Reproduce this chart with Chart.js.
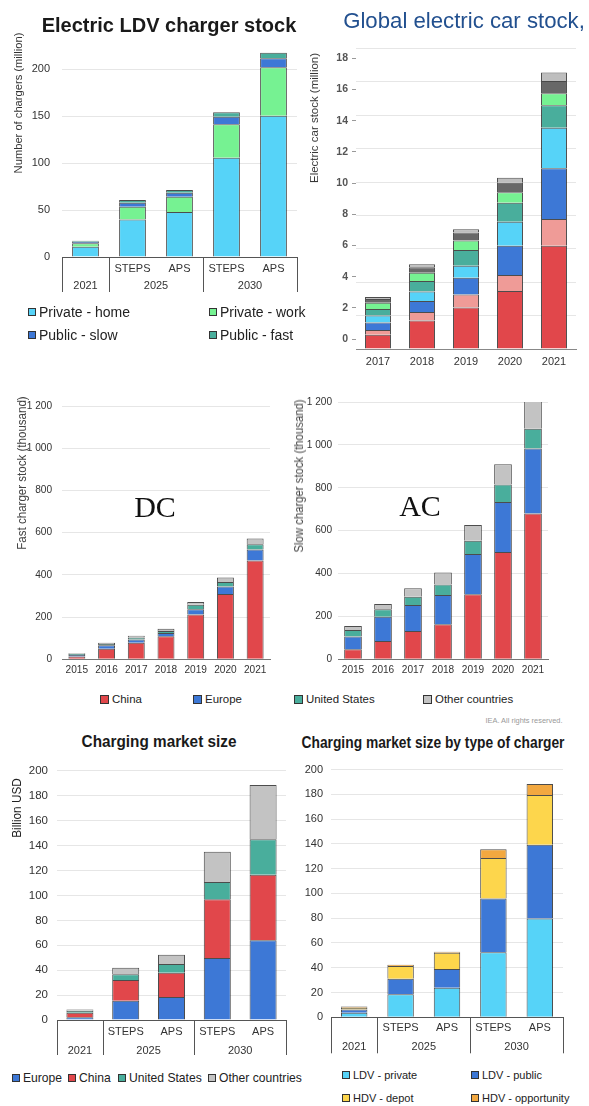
<!DOCTYPE html>
<html>
<head>
<meta charset="utf-8">
<script src="https://cdn.jsdelivr.net/npm/chart.js@4.4.1/dist/chart.umd.min.js"></script>
<style>
  html, body { margin: 0; padding: 0; background: #fff; }
  #page { position: relative; width: 589px; height: 1106px; overflow: hidden; font-family: "Liberation Sans", Arial, sans-serif; }
  canvas { position: absolute; }
  .t { position: absolute; white-space: nowrap; line-height: 1; }
  .leg { position: absolute; white-space: nowrap; display: flex; align-items: center; color: #222; line-height: 1; transform: translateY(-50%); }
  .leg i { display: inline-block; box-sizing: border-box; border: 1px solid #333; margin-right: 3px; }
</style>
</head>
<body>
<div id="page"></div>
<script>
// Electric LDV charger stock (million chargers)
const ldvCats = ['', 'STEPS', 'APS', 'STEPS', 'APS'];
const ldvGroups = ['2021', '2025', '2030'];
const ldvGroupSizes = [1, 2, 2];
const ldvSeries = ['Private - home', 'Private - work', 'Public - slow', 'Public - fast'];
const privateHome = [11, 40, 48, 105.6, 150.3];
const privateWork = [3.5, 13.5, 16.2, 35.6, 51.5];
const publicSlow = [1.8, 4.3, 4.2, 8.1, 9.6];
const publicFast = [1, 2.8, 2.9, 4.6, 5.9];

// Global electric car stock (million)
const carYears = ['2017', '2018', '2019', '2020', '2021'];
const carSeries = ['China BEV', 'China PHEV', 'Europe BEV', 'Europe PHEV', 'United States BEV', 'United States PHEV', 'Other BEV', 'Other PHEV'];
const chinaBev = [0.86, 1.70, 2.49, 3.47, 6.19];
const chinaPhev = [0.28, 0.52, 0.78, 0.96, 1.59];
const europeBev = [0.44, 0.65, 1.00, 1.76, 3.04];
const europePhev = [0.42, 0.58, 0.72, 1.43, 2.43];
const usBev = [0.40, 0.62, 0.94, 1.14, 1.34];
const usPhev = [0.37, 0.50, 0.56, 0.62, 0.72];
const otherBev = [0.22, 0.32, 0.48, 0.58, 0.74];
const otherPhev = [0.12, 0.18, 0.20, 0.30, 0.50];

// Fast (DC) and slow (AC) public charger stock (thousand)
const chargerYears = ['2015', '2016', '2017', '2018', '2019', '2020', '2021'];
const regions = ['China', 'Europe', 'United States', 'Other countries'];
const fastChina = [13, 50, 78, 109, 212, 309, 468];
const fastEurope = [7, 16, 16, 16, 25, 36, 52];
const fastUS = [5, 6, 9, 9, 21, 21, 25];
const fastOther = [4, 6, 9, 11, 14, 22, 27];
const slowChina = [47, 85, 132, 163, 303, 500, 680];
const slowEurope = [59, 114, 121, 137, 188, 234, 303];
const slowUS = [31, 34, 39, 49, 62, 81, 93];
const slowOther = [18, 25, 39, 56, 73, 95, 132];

// Charging market size (billion USD)
const marketCats = ['', 'STEPS', 'APS', 'STEPS', 'APS'];
const marketRegions = ['Europe', 'China', 'United States', 'Other countries'];
const mktEurope = [2.2, 15.4, 18.5, 49.8, 64.1];
const mktChina = [3.6, 16.7, 19.4, 47.2, 52.5];
const mktUS = [1.6, 4.7, 7.1, 13.7, 28.6];
const mktOther = [1.1, 5.1, 7.4, 24.4, 43.4];
const chargerTypes = ['LDV - private', 'LDV - public', 'HDV - depot', 'HDV - opportunity'];
const ldvPrivate = [3.7, 18.7, 23.8, 52.6, 79.8];
const ldvPublic = [2.6, 12.5, 15.2, 43.3, 59.6];
const hdvDepot = [1.4, 10.2, 13.1, 32.8, 40.0];
const hdvOpportunity = [1.0, 1.1, 0.8, 6.9, 8.9];

const C = {
  cyan: '#56D3F8', green: '#76F292', blue: '#3D78D6', teal: '#49AE9C',
  red: '#E1474B', pink: '#EF9B97', dgray: '#686868', lgray: '#BEBEBE',
  gray: '#C3C3C3', yellow: '#FDD64C', orange: '#F2A840'
};
const EDGE = 'rgba(45,45,45,0.85)';
const GRID = '#e6e6e6';

const page = document.getElementById('page');

// use the narrow face when it is installed
const probe = document.createElement('canvas').getContext('2d');
function probeWidth(f) { probe.font = f; return probe.measureText('Other countries 2015').width; }
const HAS_NARROW = probeWidth('20px "Liberation Sans Narrow", monospace') !== probeWidth('20px monospace');
const NARROW = HAS_NARROW ? '"Liberation Sans Narrow", "Liberation Sans", sans-serif' : '"Liberation Sans", sans-serif';
const NK = HAS_NARROW ? 1 : 0.88;
const REG = '"Liberation Sans", Arial, sans-serif';

const spaced = v => v >= 1000 ? Math.floor(v / 1000) + ' ' + String(v % 1000).padStart(3, '0') : v;

function sets(names, values, colors) {
  return names.map((n, i) => ({ label: n, data: values[i], backgroundColor: colors[i] }));
}

// draws the boxed two-level category axis (2021 | 2025 | 2030)
const groupBoxes = {
  id: 'groupBoxes',
  afterDraw(chart, args, opts) {
    const x = chart.scales.x, ctx = chart.ctx;
    const half = (x.getPixelForValue(1) - x.getPixelForValue(0)) / 2;
    const top = x.top;
    const edges = [x.getPixelForValue(0) - half];
    ctx.save();
    ctx.font = opts.font;
    ctx.fillStyle = '#333';
    ctx.textAlign = 'center';
    ctx.textBaseline = 'middle';
    let i = 0;
    opts.names.forEach((name, g) => {
      const left = x.getPixelForValue(i) - half;
      const right = x.getPixelForValue(i + opts.sizes[g] - 1) + half;
      ctx.fillText(name, (left + right) / 2, top + opts.labelY);
      edges.push(right);
      i += opts.sizes[g];
    });
    ctx.strokeStyle = '#555';
    ctx.lineWidth = 1;
    ctx.beginPath();
    edges.forEach(e => {
      const px = Math.round(e) + 0.5;
      ctx.moveTo(px, top);
      ctx.lineTo(px, top + opts.depth);
    });
    ctx.stroke();
    ctx.restore();
  }
};

function addChart(box, cfg) {
  const c = document.createElement('canvas');
  c.width = box.w;
  c.height = box.h;
  c.style.left = box.x + 'px';
  c.style.top = box.y + 'px';
  page.appendChild(c);
  return new Chart(c, cfg);
}

function barOptions(o) {
  return {
    responsive: false,
    animation: false,
    layout: { padding: { top: o.padTop, right: o.padRight, bottom: 0, left: 0 } },
    datasets: { bar: { categoryPercentage: 1, barPercentage: o.barPct, borderWidth: 1, borderColor: EDGE } },
    plugins: { legend: { display: false }, tooltip: { enabled: false }, groupBoxes: o.groups || {} },
    scales: {
      x: {
        stacked: true,
        grid: { display: false, drawTicks: false },
        border: { color: o.axisColor, width: 1 },
        ticks: { font: o.xFont, color: '#333', padding: o.xPad, maxRotation: 0, autoSkip: false },
        afterFit: s => { s.height = o.xH; }
      },
      y: {
        stacked: true, min: 0, max: o.max,
        grid: { color: GRID, drawTicks: false },
        border: { display: false },
        ticks: { stepSize: o.step, includeBounds: false, font: o.yFont, color: '#333', padding: o.yPad, callback: o.fmt || (v => v) },
        afterFit: s => { s.width = o.yW; }
      }
    }
  };
}

// Electric LDV charger stock
addChart({ x: 0, y: 0, w: 300, h: 300 }, {
  type: 'bar',
  data: { labels: ldvCats, datasets: sets(ldvSeries, [privateHome, privateWork, publicSlow, publicFast], [C.cyan, C.green, C.blue, C.teal]) },
  options: barOptions({
    yW: 62, xH: 43, padTop: 50.2, padRight: 3, max: 220, step: 50, barPct: 0.57,
    yFont: { family: REG, size: 11 }, yPad: 12, xFont: { family: REG, size: 11 }, xPad: 5, axisColor: '#555',
    groups: { names: ldvGroups, sizes: ldvGroupSizes, font: '11px ' + REG, labelY: 28.7, depth: 35 }
  }),
  plugins: [groupBoxes]
});

// Global electric car stock: gridlines follow the bars, tick labels sit on their own (compressed) axis
const carOpts = barOptions({
  yW: 0, xH: 26, padTop: 48.4, padRight: 13, max: 18, step: 2, barPct: 0.59,
  yFont: { family: REG, size: 10.5 }, yPad: 0, xFont: { family: REG, size: 11 }, xPad: 6, axisColor: '#888'
});
carOpts.scales.y.ticks.display = false;
carOpts.scales.yLabels = {
  type: 'linear', position: 'left', min: -0.64, max: 18.63,
  grid: { drawOnChartArea: false, tickLength: 4, color: '#999' },
  border: { display: false },
  ticks: { stepSize: 2, includeBounds: false, padding: 4, font: { family: REG, size: 10.5, weight: 'bold' }, color: '#555' },
  afterFit: s => { s.width = 56; }
};
addChart({ x: 300, y: 0, w: 289, h: 375 }, {
  type: 'bar',
  data: {
    labels: carYears,
    datasets: sets(carSeries,
      [chinaBev, chinaPhev, europeBev, europePhev, usBev, usPhev, otherBev, otherPhev],
      [C.red, C.pink, C.blue, C.cyan, C.teal, C.green, C.dgray, C.lgray])
  },
  options: carOpts
});

// DC fast chargers
addChart({ x: 0, y: 390, w: 295, h: 300 }, {
  type: 'bar',
  data: { labels: chargerYears, datasets: sets(regions, [fastChina, fastEurope, fastUS, fastOther], [C.red, C.blue, C.teal, C.gray]) },
  options: barOptions({
    yW: 62, xH: 30.7, padTop: 13.3, padRight: 25, max: 1200, step: 200, barPct: 0.57, fmt: spaced,
    yFont: { family: NARROW, size: 11.5 * NK }, yPad: 10, xFont: { family: NARROW, size: 11.5 * NK }, xPad: 5, axisColor: '#777'
  })
});

// AC slow chargers
addChart({ x: 295, y: 390, w: 294, h: 300 }, {
  type: 'bar',
  data: { labels: chargerYears, datasets: sets(regions, [slowChina, slowEurope, slowUS, slowOther], [C.red, C.blue, C.teal, C.gray]) },
  options: barOptions({
    yW: 43, xH: 30.7, padTop: 11.7, padRight: 41, max: 1200, step: 200, barPct: 0.59, fmt: spaced,
    yFont: { family: NARROW, size: 11.5 * NK }, yPad: 6, xFont: { family: NARROW, size: 11.5 * NK }, xPad: 5, axisColor: '#777'
  })
});

// Charging market size by region
addChart({ x: 0, y: 755, w: 295, h: 305 }, {
  type: 'bar',
  data: { labels: marketCats, datasets: sets(marketRegions, [mktEurope, mktChina, mktUS, mktOther], [C.blue, C.red, C.teal, C.gray]) },
  options: barOptions({
    yW: 57, xH: 40, padTop: 13.3, padRight: 9, max: 200, step: 20, barPct: 0.59,
    yFont: { family: REG, size: 11.5 }, yPad: 9, xFont: { family: NARROW, size: 12.5 * NK }, xPad: 5, axisColor: '#555',
    groups: { names: ldvGroups, sizes: ldvGroupSizes, font: (12.5 * NK) + 'px ' + NARROW, labelY: 30.7, depth: 35 }
  }),
  plugins: [groupBoxes]
});

// Charging market size by type of charger
addChart({ x: 295, y: 755, w: 294, h: 305 }, {
  type: 'bar',
  data: { labels: marketCats, datasets: sets(chargerTypes, [ldvPrivate, ldvPublic, hdvDepot, hdvOpportunity], [C.cyan, C.blue, C.yellow, C.orange]) },
  options: barOptions({
    yW: 36, xH: 42.7, padTop: 12.7, padRight: 26, max: 200, step: 20, barPct: 0.57,
    yFont: { family: REG, size: 11 }, yPad: 8, xFont: { family: NARROW, size: 12.5 * NK }, xPad: 4.5, axisColor: '#555',
    groups: { names: ldvGroups, sizes: ldvGroupSizes, font: (12.5 * NK) + 'px ' + NARROW, labelY: 30, depth: 36 }
  }),
  plugins: [groupBoxes]
});

// text placed by centre, squeezed to the width it has in the picture
function text(str, o) {
  const d = document.createElement('div');
  d.className = 't';
  d.textContent = str;
  d.style.font = o.font;
  d.style.color = o.color || '#333';
  page.appendChild(d);
  const k = o.len ? o.len / d.offsetWidth : 1;
  d.style.left = o.x + 'px';
  d.style.top = o.y + 'px';
  d.style.transform = `translate(-50%,-50%) rotate(${o.rot || 0}deg) scaleX(${k})`;
}

text('Electric LDV charger stock', { x: 169, y: 25, len: 255, font: 'bold 20px ' + REG, color: '#1a1a1a' });
text('Global electric car stock,', { x: 464, y: 21, len: 242, font: '22px ' + REG, color: '#22508f' });
text('Number of chargers (million)', { x: 18, y: 103, len: 141, rot: -90, font: '11px ' + REG });
text('Electric car stock (million)', { x: 314, y: 118, len: 130, rot: -90, font: '10.5px ' + REG });
text('Fast charger stock (thousand)', { x: 21.5, y: 473, len: 153, rot: -90, font: '12px ' + REG, color: '#444' });
text('Slow charger stock (thousand)', { x: 299, y: 476, len: 153, rot: -90, font: '12px ' + REG, color: '#444' });
text('DC', { x: 155, y: 507, font: '30px "Liberation Serif", serif', color: '#111' });
text('AC', { x: 420, y: 506, font: '30px "Liberation Serif", serif', color: '#111' });
text('IEA. All rights reserved.', { x: 523.5, y: 720, len: 77, font: '8px ' + REG, color: '#999' });
text('Charging market size', { x: 159, y: 742, len: 155, font: 'bold 16px ' + REG, color: '#1a1a1a' });
text('Charging market size by type of charger', { x: 433, y: 743, len: 263, font: 'bold 16px ' + REG, color: '#1a1a1a' });
text('Billion USD', { x: 17, y: 808, len: 60, rot: -90, font: '12px ' + REG, color: '#222' });

function legend(names, colors, spots, font, sq) {
  names.forEach((n, i) => {
    const d = document.createElement('div');
    d.className = 'leg';
    d.style.left = spots[i][0] + 'px';
    d.style.top = spots[i][1] + 'px';
    d.style.font = font;
    const s = document.createElement('i');
    s.style.width = sq + 'px';
    s.style.height = sq + 'px';
    s.style.background = colors[i];
    d.appendChild(s);
    d.appendChild(document.createTextNode(n));
    page.appendChild(d);
  });
}

legend(ldvSeries, [C.cyan, C.green, C.blue, C.teal], [[28, 312], [209, 312], [28, 335], [209, 335]], '14px ' + REG, 8);
legend(regions, [C.red, C.blue, C.teal, C.gray], [[100, 699], [193, 699], [294, 699], [423, 699]], (13 * NK) + 'px ' + NARROW, 9);
legend(marketRegions, [C.blue, C.red, C.teal, C.gray], [[12, 1078], [68, 1078], [118, 1078], [208, 1078]], (13.8 * NK) + 'px ' + NARROW, 8);
legend(chargerTypes, [C.cyan, C.blue, C.yellow, C.orange], [[342, 1075], [471, 1075], [342, 1098], [471, 1098]], (12.5 * NK) + 'px ' + NARROW, 8);
</script>
</body>
</html>
